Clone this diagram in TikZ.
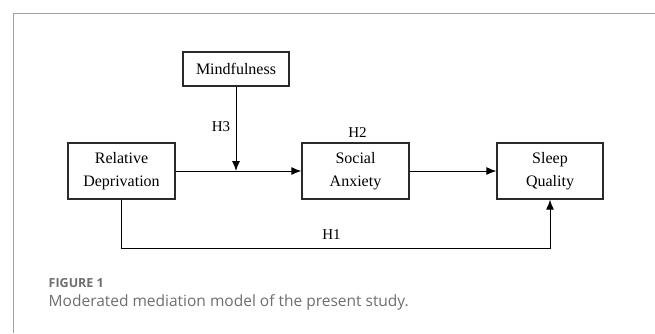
\documentclass[tikz,border=0pt]{standalone}
\usepackage{fontspec}
\setmainfont{Liberation Serif}
\newfontfamily\capfont{Open Sans}
\usetikzlibrary{arrows.meta}
\definecolor{framegray}{HTML}{A0A0A0}
\definecolor{capgray}{HTML}{6E6E6E}
\definecolor{boxline}{HTML}{2A2A2A}
\begin{document}
\begin{tikzpicture}[x=1pt,y=-1pt,
  varbox/.style={draw=boxline,line width=1.3pt,fill=white,minimum height=56pt,
    inner sep=0pt,align=center,font=\fontsize{16}{23}\selectfont},
  link/.style={line width=1pt,-{Latex[length=10pt,width=8pt]}},
  plain/.style={line width=1pt},
  hlabel/.style={font=\fontsize{15}{18}\selectfont,inner sep=0pt}]
\useasboundingbox (0,0) rectangle (655,333);
\draw[framegray,line width=1.8pt] (13.5,333) -- (13.5,13.5) -- (655,13.5);
\node[varbox,minimum width=107pt] (rd) at (121.5,171) {Relative\\Deprivation};
\node[varbox,minimum width=107pt] (sa) at (355.5,171) {Social\\Anxiety};
\node[varbox,minimum width=106pt] (sq) at (550,171) {Sleep\\Quality};
\node[varbox,minimum width=106pt,minimum height=34pt] (mf) at (236,69) {Mindfulness};
\coordinate (mod) at (mf.south |- rd.east);
\draw[link] (rd.east) -- (sa.west);
\draw[link] (mf.south) -- (mod);
\draw[link] (sa.east) -- (sq.west);
\coordinate (c1) at (rd.south |- 0,248.5);
\coordinate (c2) at (sq.south |- 0,248.5);
\draw[link] (rd.south) -- (c1) -- (c2) -- (sq.south);
\node[hlabel] (h3) at (221,127) {H3};
\node[hlabel] (h2) at (357.5,132.5) {H2};
\node[hlabel] (h1) at (331.5,235) {H1};
\node[anchor=base west,inner sep=0pt,text=capgray,font=\capfont\bfseries\fontsize{12.5}{14}\selectfont] (fig) at (48.5,287) {FIGURE 1};
\node[anchor=base west,inner sep=0pt,text=capgray,font=\capfont\fontsize{15.5}{18}\selectfont] (cap) at (48.5,306.5) {Moderated mediation model of the present study.};
\end{tikzpicture}
\end{document}
